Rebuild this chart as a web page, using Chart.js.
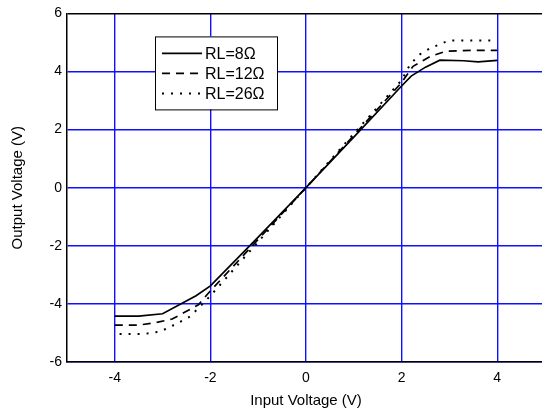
<!DOCTYPE html>
<html>
<head>
<meta charset="utf-8">
<script src="https://cdn.jsdelivr.net/npm/chart.js@4/dist/chart.umd.min.js"></script>
<style>
  html, body { margin: 0; padding: 0; background: #fff; overflow: hidden; }
  #wrap { width: 560px; height: 416px; position: relative; }
</style>
</head>
<body>
<div id="wrap"><canvas id="chart"></canvas></div>
<script>
// series labels
const seriesLabels = ['RL=8\u03A9', 'RL=12\u03A9', 'RL=26\u03A9'];

// input voltage (x) and output voltage (y)
const x8  = [-4, -3.5, -3, -2.3, -2, -1, 0, 1, 2, 2.2, 2.5, 2.8, 3.3, 3.6, 4];
const y8  = [-4.42, -4.42, -4.34, -3.72, -3.38, -1.7, 0, 1.74, 3.5, 3.84, 4.15, 4.39, 4.37, 4.33, 4.38];

const x12 = [-4, -3.5, -3.1, -2.8, -2.55, -2.25, -2, -1, 0, 1, 2, 2.24, 2.6, 2.93, 3.5, 4];
const y12 = [-4.73, -4.73, -4.63, -4.52, -4.3, -4.03, -3.55, -1.78, 0, 1.8, 3.62, 4.18, 4.52, 4.7, 4.73, 4.73];

const x26 = [-3.9, -3.4, -3.05, -2.85, -2.45, -2.25, -2, -1, 0, 1, 2, 2.18, 2.39, 2.6, 2.8, 3, 4];
const y26 = [-5.04, -5.04, -4.95, -4.8, -4.46, -4.15, -3.72, -1.86, 0, 1.86, 3.7, 4.25, 4.6, 4.8, 4.94, 5.07, 5.07];

const xTicks = [-4, -2, 0, 2, 4];
const yTicks = [-6, -4, -2, 0, 2, 4, 6];

const toPts = (xs, ys) => xs.map((x, i) => ({x: x, y: ys[i]}));

const font = 'Liberation Sans, Arial, sans-serif';
const blue = '#1010ff';

// legend box drawn inside the plot area
const innerLegend = {
  id: 'innerLegend',
  afterDraw(chart) {
    const ctx = chart.ctx;
    const a = chart.chartArea;
    const bx = a.left + 88, by = a.top + 23, bw = 122, bh = 73;
    ctx.save();
    ctx.fillStyle = '#fff';
    ctx.fillRect(bx, by, bw, bh);
    ctx.strokeStyle = '#000';
    ctx.lineWidth = 1;
    ctx.strokeRect(bx + 0.5, by + 0.5, bw, bh);
    ctx.font = '16px ' + font;
    ctx.textBaseline = 'middle';
    ctx.fillStyle = '#000';
    chart.data.datasets.forEach((ds, i) => {
      const yy = by + 17 + i * 20;
      ctx.beginPath();
      ctx.setLineDash(ds.borderDash || []);
      ctx.lineWidth = ds.borderWidth;
      ctx.moveTo(bx + 7, yy);
      ctx.lineTo(bx + 47, yy);
      ctx.stroke();
      ctx.setLineDash([]);
      ctx.fillText(ds.label, bx + 50, yy + 1);
    });
    ctx.restore();
  }
};

new Chart(document.getElementById('chart'), {
  type: 'line',
  data: {
    datasets: [
      { label: seriesLabels[0], data: toPts(x8, y8), borderColor: '#000', borderWidth: 1.7, borderDash: [] },
      { label: seriesLabels[1], data: toPts(x12, y12), borderColor: '#000', borderWidth: 1.7, borderDash: [8, 6] },
      { label: seriesLabels[2], data: toPts(x26, y26), borderColor: '#000', borderWidth: 2, borderDash: [2, 7] }
    ]
  },
  options: {
    responsive: true,
    maintainAspectRatio: false,
    animation: false,
    elements: { point: { radius: 0 }, line: { tension: 0 } },
    layout: { padding: { left: 0, top: 12, right: 15, bottom: 0 } },
    plugins: { legend: { display: false }, tooltip: { enabled: false } },
    scales: {
      x: {
        type: 'linear', min: -5, max: 5,
        afterBuildTicks: s => { s.ticks = xTicks.map(v => ({value: v})); },
        afterFit: s => { s.height = 54; },
        grid: { color: blue, lineWidth: 1.4, drawTicks: false },
        border: { color: '#000', width: 1.5 },
        ticks: { color: '#000', font: { family: font, size: 14 }, padding: 8, maxRotation: 0 },
        title: { display: true, text: 'Input Voltage (V)', color: '#000', font: { family: font, size: 15 }, padding: { top: 0, bottom: 6 } }
      },
      y: {
        type: 'linear', min: -6, max: 6,
        afterBuildTicks: s => { s.ticks = yTicks.map(v => ({value: v})); },
        afterFit: s => { s.width = 67; },
        grid: { color: c => (c.tick && c.tick.value === 6) ? '#000' : blue, lineWidth: c => (c.tick && c.tick.value === 6) ? 1.5 : 1.4, drawTicks: false },
        border: { color: '#000', width: 1.5 },
        ticks: { color: '#000', font: { family: font, size: 14 }, padding: 5 },
        title: { display: true, text: 'Output Voltage (V)', color: '#000', font: { family: font, size: 15 }, padding: { top: 9, bottom: 0 } }
      }
    }
  },
  plugins: [innerLegend]
});
</script>
</body>
</html>
